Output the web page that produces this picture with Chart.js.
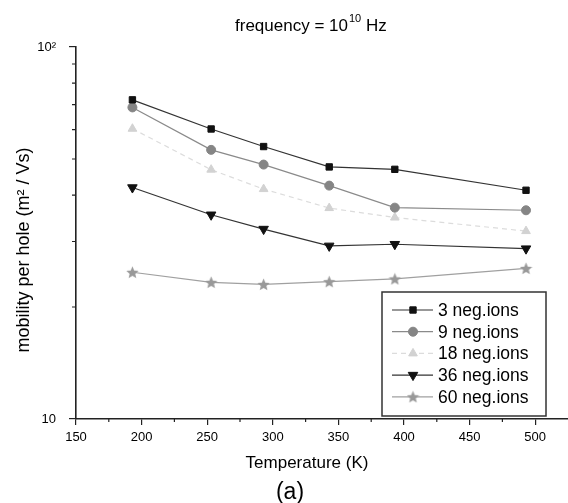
<!DOCTYPE html>
<html>
<head>
<meta charset="utf-8">
<script src="https://cdn.jsdelivr.net/npm/chart.js@4.4.1/dist/chart.umd.min.js"></script>
<style>
html, body { margin: 0; padding: 0; background: #fff; }
#wrap { width: 568px; height: 503px; }
</style>
</head>
<body>
<div id="wrap"><canvas id="mobilityChart" width="568" height="503"></canvas></div>
<script>
// temperature (K) of each measurement
const temperatures = [193, 253, 293, 343, 393, 493];
// mobility per hole (m2/Vs)
const mobility3 = [72.1, 60.2, 54.0, 47.6, 46.9, 41.2];
const mobility9 = [68.8, 52.9, 48.3, 42.4, 37.0, 36.4];
const mobility18 = [60.3, 46.8, 41.5, 36.9, 34.8, 32.0];
const mobility36 = [41.9, 35.4, 32.4, 29.2, 29.5, 28.7];
const mobility60 = [24.8, 23.3, 23.0, 23.4, 23.8, 25.4];
const seriesNames = ['3 neg.ions', '9 neg.ions', '18 neg.ions', '36 neg.ions', '60 neg.ions'];

const xTickValues = [150, 200, 250, 300, 350, 400, 450, 500];
const xMinorTicks = [175, 225, 275, 325, 375, 425, 475];
const yTickValues = [10, 100];
const yTickLabels = { 10: '10', 100: '10²' };
const yMinorTicks = [20, 30, 40, 50, 60, 70, 80, 90];

const FONT = '"Liberation Sans", Arial, Helvetica, sans-serif';

// filled five point star, used as the marker of the last series
function makeStar(color, size) {
    const c = document.createElement('canvas');
    c.width = size; c.height = size;
    const g = c.getContext('2d');
    const r = size / 2, ri = r * 0.45;
    g.beginPath();
    for (let i = 0; i < 10; i++) {
        const rad = i % 2 === 0 ? r : ri;
        const a = -Math.PI / 2 + i * Math.PI / 5;
        const px = r + rad * Math.cos(a), py = r + 0.6 + rad * Math.sin(a);
        if (i === 0) g.moveTo(px, py); else g.lineTo(px, py);
    }
    g.closePath();
    g.fillStyle = color;
    g.fill();
    return c;
}

function toPoints(values) {
    return temperatures.map((t, i) => ({ x: t, y: values[i] }));
}

const datasets = [
    { label: seriesNames[0], data: toPoints(mobility3), borderColor: '#333', pointStyle: 'rect',
      pointRadius: 4.5, pointBackgroundColor: '#111', pointBorderColor: '#111' },
    { label: seriesNames[1], data: toPoints(mobility9), borderColor: '#8a8a8a', pointStyle: 'circle',
      pointRadius: 4.5, pointBackgroundColor: '#858585', pointBorderColor: '#858585' },
    { label: seriesNames[2], data: toPoints(mobility18), borderColor: '#dcdcdc', borderDash: [5, 4], pointStyle: 'triangle',
      pointRadius: 5, pointBackgroundColor: '#d2d2d2', pointBorderColor: '#d2d2d2' },
    { label: seriesNames[3], data: toPoints(mobility36), borderColor: '#333', pointStyle: 'triangle', pointRotation: 180,
      pointRadius: 5.5, pointBackgroundColor: '#111', pointBorderColor: '#111' },
    { label: seriesNames[4], data: toPoints(mobility60), borderColor: '#a0a0a0', pointStyle: makeStar('#999', 13),
      pointRadius: 6, pointBackgroundColor: '#999', pointBorderColor: '#999' }
];
datasets.forEach(ds => { ds.borderWidth = 1.2; ds.pointBorderWidth = 1; ds.showLine = true; ds.tension = 0; });

// minor ticks, titles and the boxed legend inside the plot
const decorPlugin = {
    id: 'decor',
    afterDraw(chart) {
        const ctx = chart.ctx;
        const xs = chart.scales.x, ys = chart.scales.y;
        const area = chart.chartArea;
        ctx.save();
        ctx.strokeStyle = '#222';
        ctx.lineWidth = 1.2;
        ctx.beginPath();
        xMinorTicks.forEach(v => {
            const px = xs.getPixelForValue(v);
            ctx.moveTo(px, area.bottom); ctx.lineTo(px, area.bottom + 3);
        });
        yMinorTicks.forEach(v => {
            const py = ys.getPixelForValue(v);
            ctx.moveTo(area.left, py); ctx.lineTo(area.left - 4, py);
        });
        ctx.stroke();

        // legend
        const box = { left: 382, top: 292, right: 546, bottom: 416 };
        ctx.fillStyle = '#fff';
        ctx.fillRect(box.left, box.top, box.right - box.left, box.bottom - box.top);
        ctx.strokeStyle = '#333';
        ctx.lineWidth = 1.5;
        ctx.strokeRect(box.left, box.top, box.right - box.left, box.bottom - box.top);
        ctx.font = '17.5px ' + FONT;
        ctx.textBaseline = 'middle';
        ctx.textAlign = 'left';
        chart.data.datasets.forEach((ds, i) => {
            const y = box.top + 18 + i * 21.7;
            ctx.strokeStyle = ds.borderColor;
            ctx.lineWidth = ds.borderWidth;
            ctx.setLineDash(ds.borderDash || []);
            ctx.beginPath(); ctx.moveTo(392, y); ctx.lineTo(433, y); ctx.stroke();
            ctx.setLineDash([]);
            ctx.fillStyle = ds.pointBackgroundColor;
            ctx.strokeStyle = ds.pointBorderColor;
            ctx.lineWidth = 1;
            Chart.helpers.drawPoint(ctx, { pointStyle: ds.pointStyle, rotation: ds.pointRotation || 0,
                radius: ds.pointRadius, borderWidth: 1 }, 413, y);
            ctx.fillStyle = '#000';
            ctx.fillText(ds.label, 438, y + 1);
        });

        // title with superscript
        ctx.fillStyle = '#000';
        ctx.textBaseline = 'alphabetic';
        let tx = 235;
        ctx.font = '17px ' + FONT;
        ctx.fillText('frequency = 10', tx, 31);
        tx += ctx.measureText('frequency = 10').width + 1;
        ctx.font = '11px ' + FONT;
        ctx.fillText('10', tx, 22);
        tx += ctx.measureText('10').width;
        ctx.font = '17px ' + FONT;
        ctx.fillText(' Hz', tx, 31);

        // axis titles
        ctx.textAlign = 'center';
        ctx.textBaseline = 'middle';
        ctx.font = '17px ' + FONT;
        ctx.fillText('Temperature (K)', 307, 463);
        ctx.font = '23px ' + FONT;
        ctx.fillText('(a)', 290, 493);
        ctx.translate(24, 250);
        ctx.rotate(-Math.PI / 2);
        ctx.font = '18px ' + FONT;
        ctx.fillText('mobility per hole (m² / Vs)', 0, 0);
        ctx.restore();
    }
};

new Chart(document.getElementById('mobilityChart'), {
    type: 'scatter',
    data: { datasets: datasets },
    options: {
        responsive: false,
        animation: false,
        layout: { autoPadding: false, padding: { top: 47, right: 0, left: 0, bottom: 0 } },
        plugins: { legend: { display: false }, tooltip: { enabled: false } },
        scales: {
            x: {
                type: 'linear',
                min: 150,
                max: 525,
                afterBuildTicks: scale => { scale.ticks = xTickValues.map(v => ({ value: v })); },
                afterFit: scale => { scale.height = 84; scale.paddingRight = 0; scale.paddingLeft = 0; },
                grid: { drawOnChartArea: false, drawTicks: true, tickLength: 6, color: '#222', lineWidth: 1.2 },
                border: { color: '#222', width: 1.6 },
                ticks: { color: '#000', padding: 5, maxRotation: 0, font: { family: FONT, size: 13 } }
            },
            y: {
                type: 'logarithmic',
                min: 10,
                max: 100,
                afterBuildTicks: scale => { scale.ticks = yTickValues.map(v => ({ value: v })); },
                afterFit: scale => { scale.width = 76; scale.paddingTop = 0; scale.paddingBottom = 0; },
                grid: { drawOnChartArea: false, drawTicks: true, tickLength: 7, color: '#222', lineWidth: 1.2 },
                border: { color: '#222', width: 1.6 },
                ticks: {
                    color: '#000', padding: 13, font: { family: FONT, size: 13 },
                    callback: value => yTickLabels[value] || ''
                }
            }
        }
    },
    plugins: [decorPlugin]
});
</script>
</body>
</html>
